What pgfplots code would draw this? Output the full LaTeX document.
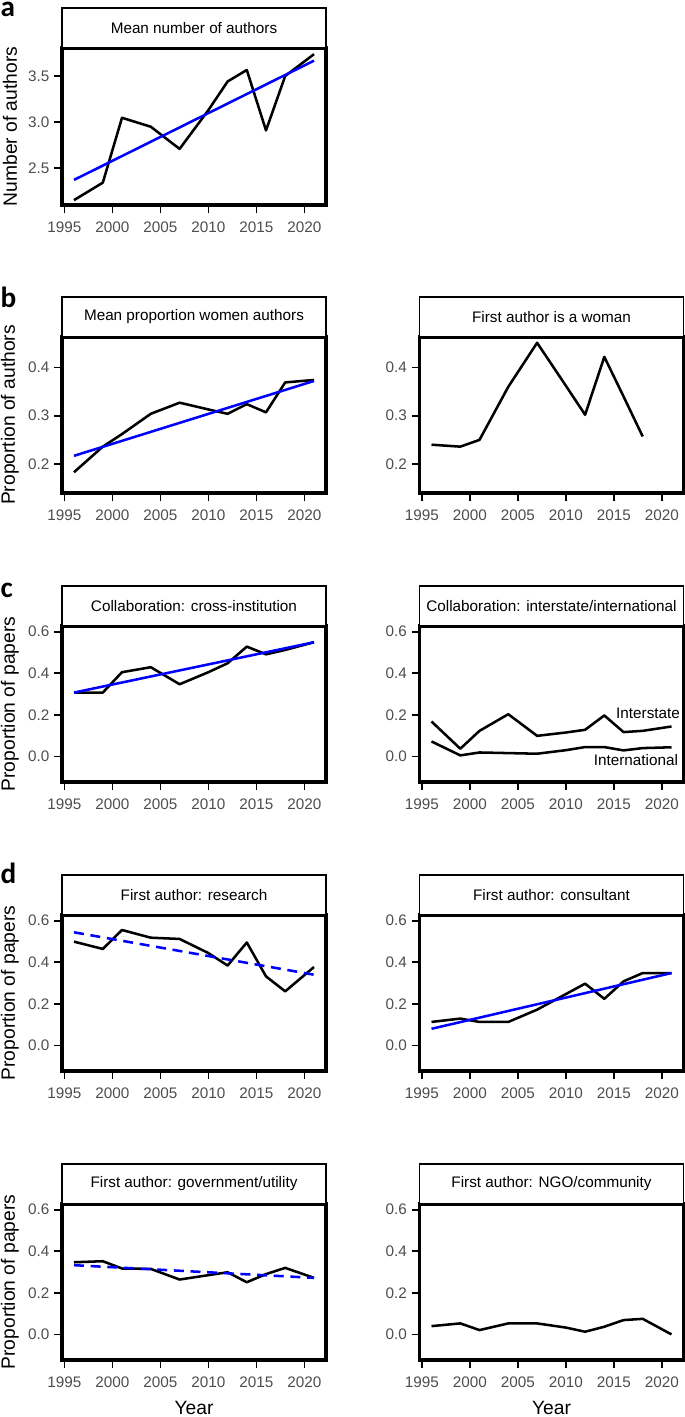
\documentclass[border=0pt]{standalone}
\usepackage{pgfplots}
\pgfplotsset{compat=1.18}
\usepackage{fontspec}
\setmainfont{Liberation Sans}
\newfontfamily\letterfont{Carlito}
\definecolor{tickgrey}{HTML}{4D4D4D}
\definecolor{fitblue}{HTML}{0000FF}
\pgfplotsset{
  panel/.style={
    scale only axis, width=198bp, height=117bp,
    xmin=1994.75, xmax=2022.25,
    xtick={1995,2000,2005,2010,2015,2020},
    axis line style={line width=2.6bp, black},
    every tick/.style={black, line width=1.3bp},
    tick align=outside, major tick length=6bp,
    tick pos=left,
    /pgf/number format/assume math mode=true,
    ticklabel style={font=\fontsize{11.5}{12}\selectfont, text=tickgrey},
    xticklabel style={/pgf/number format/1000 sep={}, yshift=-3bp},
    yticklabel style={/pgf/number format/fixed, /pgf/number format/fixed zerofill, /pgf/number format/precision=1},
    every axis title/.style={at={(axis description cs:0.5,1)}, anchor=south, draw=black, line width=1.3bp, fill=white,
      minimum width=198bp, minimum height=30bp, inner sep=0pt, outer sep=0pt, font=\fontsize{11.5}{12}\selectfont},
    every axis y label/.style={at={(axis description cs:-0.197,0.5)}, rotate=90, anchor=center, font=\fontsize{14.5}{15}\selectfont},
    every axis x label/.style={at={(axis description cs:0.5,-0.308)}, anchor=center, font=\fontsize{14.5}{15}\selectfont},
    anchor=south west,
  },
  rowa/.style={height=117.75bp, ymin=2.102, ymax=3.803, ytick={2.5,3,3.5}},
  rowb/.style={ymin=0.14, ymax=0.463, ytick={0.2,0.3,0.4}},
  rowc/.style={ymin=-0.123, ymax=0.627, ytick={0,0.2,0.4,0.6}},
  dline/.style={black, line width=1.9bp, no markers, line join=round},
  bline/.style={fitblue, line width=1.9bp, no markers},
  bdash/.style={fitblue, line width=1.9bp, no markers, dash pattern=on 7.5bp off 5bp},
}
\begin{document}
\begin{tikzpicture}
\path[use as bounding box] (0,0) rectangle (513.75bp,-1062.75bp);

% panel letters
\node[anchor=base west, inner sep=0pt, font=\letterfont\bfseries\fontsize{22}{22}\selectfont] at (0.3bp,-12.5bp) {a};
\node[anchor=base west, inner sep=0pt, font=\letterfont\bfseries\fontsize{22}{22}\selectfont] at (0.3bp,-230.25bp) {b};
\node[anchor=base west, inner sep=0pt, font=\letterfont\bfseries\fontsize{22}{22}\selectfont] at (0.3bp,-447.75bp) {c};
\node[anchor=base west, inner sep=0pt, font=\letterfont\bfseries\fontsize{22}{22}\selectfont] at (0.3bp,-662.25bp) {d};

% a
\begin{axis}[panel, rowa, at={(46.5bp,-153.75bp)}, title={Mean number of authors}, ylabel={Number of authors}]
\addplot[dline] coordinates {(1996,2.155) (1999,2.344) (2001,3.047) (2004,2.95) (2007,2.71) (2010,3.13) (2012,3.44) (2014,3.565) (2016,2.91) (2018,3.50) (2021,3.736)};
\addplot[bline] coordinates {(1996,2.374) (2021,3.666)};
\end{axis}

% b left
\begin{axis}[panel, rowb, at={(46.5bp,-369.75bp)}, title={Mean proportion women authors}, ylabel={Proportion of authors}]
\addplot[dline] coordinates {(1996,0.183) (1999,0.236) (2001,0.262) (2004,0.304) (2007,0.327) (2010,0.313) (2012,0.304) (2014,0.324) (2016,0.307) (2018,0.369) (2021,0.374)};
\addplot[bline] coordinates {(1996,0.217) (2021,0.372)};
\end{axis}

% b right
\begin{axis}[panel, rowb, at={(314.625bp,-369.75bp)}, title={First author is a woman}]
\addplot[dline] coordinates {(1996,0.240) (1999,0.236) (2001,0.250) (2004,0.360) (2007,0.451) (2010,0.362) (2012,0.302) (2014,0.422) (2016,0.340) (2018,0.257)};
\end{axis}

% c left
\begin{axis}[panel, rowc, at={(46.5bp,-586.5bp)}, title={Collaboration: cross-institution}, ylabel={Proportion of papers}]
\addplot[dline] coordinates {(1996,0.307) (1999,0.307) (2001,0.405) (2004,0.429) (2007,0.347) (2010,0.405) (2012,0.448) (2014,0.528) (2016,0.491) (2018,0.512) (2021,0.549)};
\addplot[bline] coordinates {(1996,0.307) (2021,0.549)};
\end{axis}

% c right
\begin{axis}[panel, rowc, at={(314.625bp,-586.5bp)}, title={Collaboration: interstate/international}]
\addplot[dline] coordinates {(1996,0.168) (1999,0.037) (2001,0.123) (2004,0.203) (2007,0.099) (2010,0.115) (2012,0.128) (2014,0.197) (2016,0.117) (2018,0.123) (2021,0.144)};
\addplot[dline] coordinates {(1996,0.072) (1999,0.005) (2001,0.019) (2004,0.016) (2007,0.013) (2010,0.030) (2012,0.045) (2014,0.045) (2016,0.029) (2018,0.040) (2021,0.044)};
\node[anchor=east, inner sep=0pt, font=\fontsize{11.5}{12}\selectfont] at (axis cs:2021.9,0.205) {Interstate};
\node[anchor=east, inner sep=0pt, font=\fontsize{11.5}{12}\selectfont] at (axis cs:2021.7,-0.019) {International};
\end{axis}

% d left
\begin{axis}[panel, rowc, at={(46.5bp,-803.25bp)}, title={First author: research}, ylabel={Proportion of papers}]
\addplot[dline] coordinates {(1996,0.499) (1999,0.464) (2001,0.555) (2004,0.518) (2007,0.512) (2010,0.444) (2012,0.384) (2014,0.495) (2016,0.332) (2018,0.260) (2021,0.377)};
\addplot[bdash] coordinates {(1996,0.544) (2021,0.340)};
\end{axis}

% d right
\begin{axis}[panel, rowc, at={(314.625bp,-803.25bp)}, title={First author: consultant}]
\addplot[dline] coordinates {(1996,0.113) (1999,0.129) (2001,0.113) (2004,0.113) (2007,0.172) (2010,0.247) (2012,0.297) (2014,0.224) (2016,0.308) (2018,0.348) (2021,0.348)};
\addplot[bline] coordinates {(1996,0.080) (2021,0.348)};
\end{axis}

% e left
\begin{axis}[panel, rowc, at={(46.5bp,-1020bp)}, title={First author: government/utility}, ylabel={Proportion of papers}, xlabel={Year}]
\addplot[dline] coordinates {(1996,0.347) (1999,0.352) (2001,0.317) (2004,0.315) (2007,0.264) (2010,0.285) (2012,0.299) (2014,0.251) (2016,0.290) (2018,0.320) (2021,0.272)};
\addplot[bdash] coordinates {(1996,0.333) (2021,0.272)};
\end{axis}

% e right
\begin{axis}[panel, rowc, at={(314.625bp,-1020bp)}, title={First author: NGO/community}, xlabel={Year}]
\addplot[dline] coordinates {(1996,0.040) (1999,0.053) (2001,0.021) (2004,0.053) (2007,0.053) (2010,0.033) (2012,0.013) (2014,0.037) (2016,0.069) (2018,0.075) (2021,0.0)};
\end{axis}
\end{tikzpicture}
\end{document}
